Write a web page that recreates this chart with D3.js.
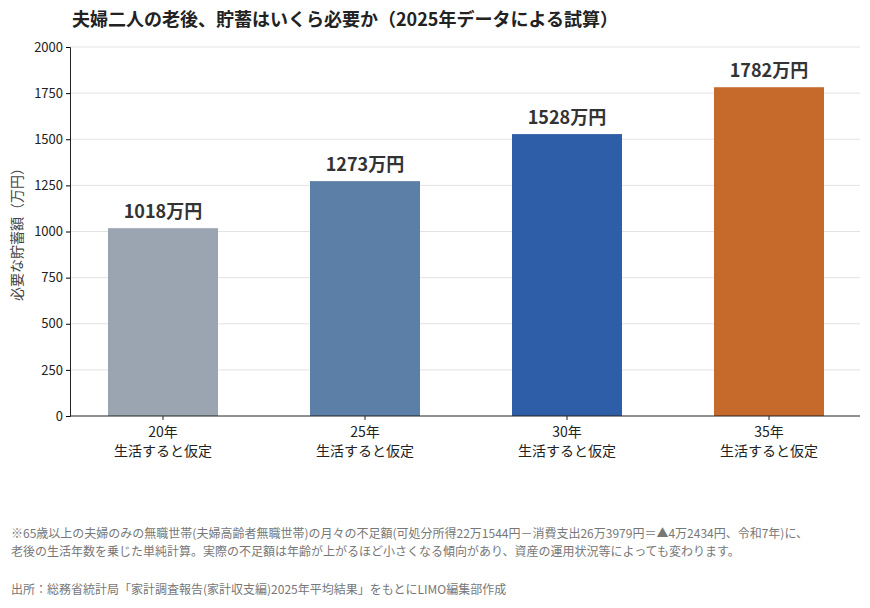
<!DOCTYPE html>
<html><head><meta charset="utf-8">
<script src="https://d3js.org/d3.v7.min.js"></script>
<style>
body{margin:0;background:#fff;font-family:"Noto Sans CJK JP","Noto Sans",sans-serif;}
text{font-family:"Noto Sans CJK JP","Noto Sans",sans-serif;}
</style></head>
<body>
<svg width="870" height="608"></svg>
<script>
var categories = ["20年", "25年", "30年", "35年"];
var values = [1018, 1273, 1528, 1782];
var colors = ["#9aa5b1", "#5b7fa6", "#2e5ea8", "#c56a2a"];
var yTicks = [0, 250, 500, 750, 1000, 1250, 1500, 1750, 2000];

var svg = d3.select("svg");
var x = d3.scaleBand().domain(categories).range([62, 870]).padding(0);
var barW = 110;
var y = d3.scaleLinear().domain([0, 2000]).range([416, 47]);
function cx(c) { return x(c) + x.bandwidth() / 2; }

svg.append("text").attr("x", 72).attr("y", 26).attr("font-size", 18).attr("font-weight", 700)
  .attr("fill", "#222").text("夫婦二人の老後、貯蓄はいくら必要か（2025年データによる試算）");

svg.selectAll(".grid").data(yTicks.slice(1)).enter().append("line")
  .attr("x1", 70).attr("x2", 860).attr("y1", d => y(d)).attr("y2", d => y(d))
  .attr("stroke", "#e3e3e3");

var ya = svg.append("g").attr("transform", "translate(70,0)")
  .call(d3.axisLeft(y).tickValues(yTicks).tickSize(4).tickFormat(d3.format("d")));
ya.selectAll("text").attr("font-size", 13).attr("fill", "#222");
ya.select(".domain").attr("stroke", "#222");

svg.selectAll(".bar").data(values).enter().append("rect")
  .attr("x", (d, i) => cx(categories[i]) - barW / 2).attr("width", barW)
  .attr("y", d => y(d)).attr("height", d => 416 - y(d))
  .attr("fill", (d, i) => colors[i]);

svg.selectAll(".lbl").data(values).enter().append("text")
  .attr("x", (d, i) => cx(categories[i])).attr("y", d => y(d) - 10)
  .attr("text-anchor", "middle").attr("font-size", 18).attr("font-weight", 700).attr("fill", "#333")
  .text(d => d + "万円");

svg.append("line").attr("x1", 70).attr("x2", 860).attr("y1", 416).attr("y2", 416).attr("stroke", "#222");

categories.forEach(function (c) {
  var px = cx(c);
  svg.append("line").attr("x1", px).attr("x2", px).attr("y1", 416).attr("y2", 420).attr("stroke", "#222");
  svg.append("text").attr("x", px).attr("y", 437).attr("text-anchor", "middle").attr("font-size", 14).attr("fill", "#222").text(c);
  svg.append("text").attr("x", px).attr("y", 456).attr("text-anchor", "middle").attr("font-size", 14).attr("fill", "#222").text("生活すると仮定");
});

svg.append("text").attr("transform", "translate(22,231) rotate(-90)").attr("text-anchor", "middle")
  .attr("font-size", 14).attr("fill", "#444").text("必要な貯蓄額（万円）");

var notes = [
  "※65歳以上の夫婦のみの無職世帯(夫婦高齢者無職世帯)の月々の不足額(可処分所得22万1544円－消費支出26万3979円＝▲4万2434円、令和7年)に、",
  "老後の生活年数を乗じた単純計算。実際の不足額は年齢が上がるほど小さくなる傾向があり、資産の運用状況等によっても変わります。"
];
notes.forEach(function (t, i) {
  svg.append("text").attr("x", 11).attr("y", 538 + i * 18).attr("font-size", 12).attr("fill", "#777").text(t);
});
svg.append("text").attr("x", 11).attr("y", 594).attr("font-size", 12).attr("fill", "#777")
  .text("出所：総務省統計局「家計調査報告(家計収支編)2025年平均結果」をもとにLIMO編集部作成");
</script>
</body></html>
